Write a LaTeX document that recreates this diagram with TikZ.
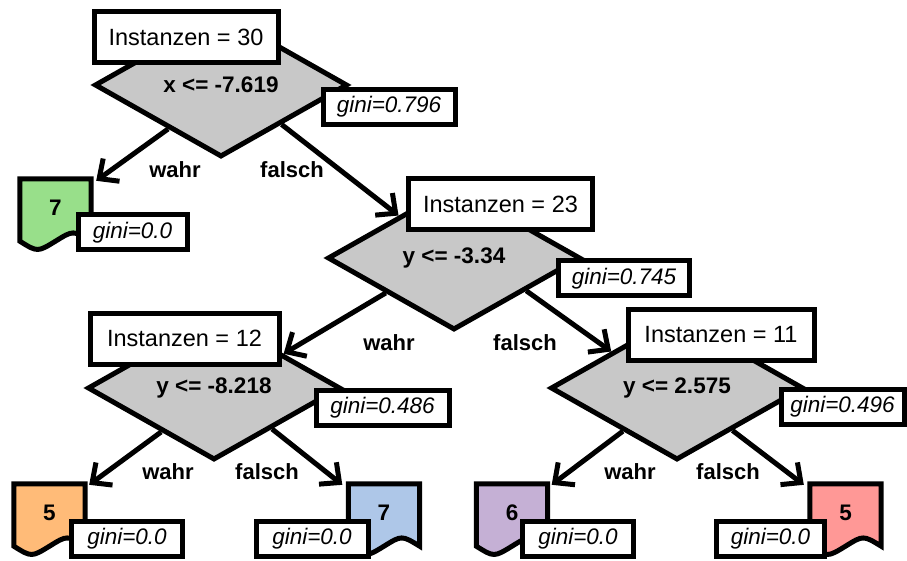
\documentclass[tikz,border=0pt]{standalone}
\usepackage{fontspec}
\setmainfont{Liberation Sans}
\usetikzlibrary{shapes.geometric,arrows.meta,calc,backgrounds}

\definecolor{splitgray}{RGB}{200,200,200}
\definecolor{leafgreen}{RGB}{152,223,138}
\definecolor{leaforange}{RGB}{255,187,120}
\definecolor{leafblue}{RGB}{174,199,232}
\definecolor{leafpurple}{RGB}{197,176,213}
\definecolor{leafred}{RGB}{255,152,150}

\tikzset{
  thick line/.style={line width=5pt},
  split/.style={diamond, draw, thick line, fill=splitgray,
    minimum width=253pt, minimum height=144pt, inner sep=0pt,
    font=\fontsize{22.5}{26}\selectfont\bfseries},
  countbox/.style={draw, thick line, fill=white,
    minimum width=184pt, minimum height=51pt, inner sep=0pt,
    font=\fontsize{23.5}{27}\selectfont},
  ginibox/.style={draw, thick line, fill=white,
    minimum width=131pt, minimum height=35pt, inner sep=0pt,
    font=\fontsize{22.5}{26}\selectfont\itshape},
  leafgini/.style={ginibox, minimum width=109pt},
  leaf/.style={rectangle, minimum width=71pt, minimum height=58pt,
    inner sep=0pt, font=\fontsize{22.5}{26}\selectfont\bfseries},
  edgelabel/.style={font=\fontsize{22}{26}\selectfont\bfseries},
  branch/.style={thick line, -{Straight Barb[length=15pt,width=28pt]}},
}

% document-shaped outline (flat top, wavy bottom) around a leaf node
\newcommand{\leafoutline}[2]{%
  \begin{scope}[on background layer]
    \draw[thick line, fill=#2]
      (#1.north west) -- (#1.north east) -- ($(#1.south east)+(0,4)$)
      .. controls +(-18,-11) .. ($(#1.south)+(0,4)$)
      .. controls +(-18,11) .. ($(#1.south west)+(0,4)$) -- cycle;
  \end{scope}}

\begin{document}
\begin{tikzpicture}[x=1pt, y=-1pt]
  \useasboundingbox (0,0) rectangle (907,561);

  % ---- split nodes ----
  \node[split] (root) at (221,85) {x <= -7.619};
  \node[countbox] (rootn) at (186,37.5) {Instanzen = 30};
  \node[ginibox, minimum width=132pt] (rootg) at (389,107) {gini=0.796};

  \node[split] (n2) at (454,258) {y <= -3.34};
  \node[countbox] (n2n) at (500.5,204) {Instanzen = 23};
  \node[ginibox] (n2g) at (624,278.3) {gini=0.745};

  \node[split] (n3) at (214,388) {y <= -8.218};
  \node[countbox, minimum width=189pt] (n3n) at (184.5,338.5) {Instanzen = 12};
  \node[ginibox, minimum width=133pt] (n3g) at (382.5,407.5) {gini=0.486};

  \node[split] (n4) at (677,388) {y <= 2.575};
  \node[countbox, minimum width=186pt] (n4n) at (721,334.5) {Instanzen = 11};
  \node[ginibox, minimum width=123pt] (n4g) at (842.5,407) {gini=0.496};

  % ---- leaves ----
  \node[leaf] (l1) at (55.5,208) {7};
  \leafoutline{l1}{leafgreen}
  \node[leafgini] (l1g) at (132.5,232.3) {gini=0.0};

  \node[leaf] (l2) at (49.5,513) {5};
  \leafoutline{l2}{leaforange}
  \node[leafgini, minimum width=111pt] (l2g) at (127,539) {gini=0.0};

  \node[leaf] (l3) at (384,513) {7};
  \leafoutline{l3}{leafblue}
  \node[leafgini, minimum width=112pt] (l3g) at (312,539) {gini=0.0};

  \node[leaf] (l4) at (512,513) {6};
  \leafoutline{l4}{leafpurple}
  \node[leafgini, minimum width=111pt] (l4g) at (578,539) {gini=0.0};

  \node[leaf] (l5) at (845.5,513) {5};
  \leafoutline{l5}{leafred}
  \node[leafgini, minimum width=108pt] (l5g) at (770.5,539) {gini=0.0};

  % ---- branches ----
  \draw[branch] ($(root.west)!0.59!(root.south)$) -- ($(l1.north east)+(5,2)$);
  \draw[branch] ($(root.east)!0.53!(root.south)$) -- ($(n2.west)!0.57!(n2.north)$);
  \draw[branch] ($(n2.west)!0.47!(n2.south)$) -- ($(n3.east)!0.46!(n3.north)$);
  \draw[branch] ($(n2.east)!0.44!(n2.south)$) -- ($(n4.west)!0.49!(n4.north)$);
  \draw[branch] ($(n3.west)!0.59!(n3.south)$) -- ($(l2.north east)+(4,1)$);
  \draw[branch] ($(n3.east)!0.55!(n3.south)$) -- ($(l3.north west)+(-6,1)$);
  \draw[branch] ($(n4.west)!0.58!(n4.south)$) -- ($(l4.north east)+(4,1)$);
  \draw[branch] ($(n4.east)!0.57!(n4.south)$) -- ($(l5.north west)+(-6,1)$);

  % ---- branch labels ----
  \node[edgelabel] (t1) at (175,170) {wahr};
  \node[edgelabel] (f1) at (292,170) {falsch};
  \node[edgelabel] (t2) at (389,343) {wahr};
  \node[edgelabel] (f2) at (525,343) {falsch};
  \node[edgelabel] (t3) at (168,472) {wahr};
  \node[edgelabel] (f3) at (267,472) {falsch};
  \node[edgelabel] (t4) at (630,472) {wahr};
  \node[edgelabel] (f4) at (728,472) {falsch};
\end{tikzpicture}
\end{document}
